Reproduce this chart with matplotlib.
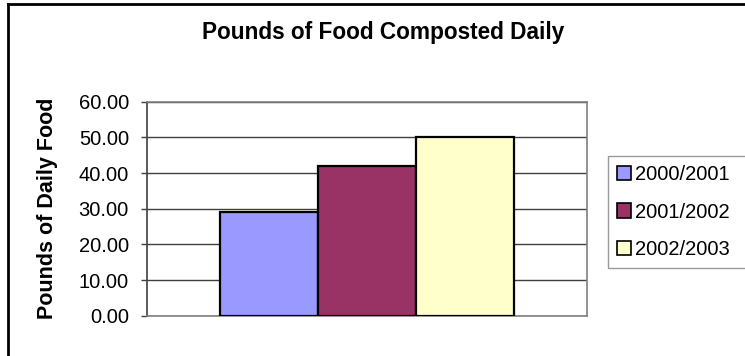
import matplotlib.pyplot as plt
from matplotlib.patches import Patch
from matplotlib.lines import Line2D

plt.rcParams['font.family'] = ['Liberation Sans', 'DejaVu Sans']

seasons = ['2000/2001', '2001/2002', '2002/2003']
pounds = [29.1, 42.0, 50.0]
colors = ['#9999FF', '#993366', '#FFFFCC']
yticks = [0, 10, 20, 30, 40, 50, 60]

W, H = 745, 356
fig = plt.figure(figsize=(W / 100, H / 100), dpi=100)
ax = fig.add_axes([147 / W, 1 - 315.7 / H, 440 / W, 214 / H])

# one category, three series side by side
w = 98 / 440
for i, (s, v, c) in enumerate(zip(seasons, pounds, colors)):
    ax.bar((i - 1) * w, v, width=w, color=c, edgecolor='black', linewidth=1.6, zorder=3)

ax.set_xlim(-0.5, 0.5)
ax.set_ylim(0, 60)
ax.set_yticks(yticks)
ax.set_yticklabels(['%.2f' % t for t in yticks], fontsize=14.5)
ax.set_xticks([])
ax.tick_params(axis='y', direction='out', length=4, width=1, color='#404040', pad=9)
ax.yaxis.grid(True, color='#404040', linewidth=1, zorder=0)
for side in ['top', 'right', 'bottom']:
    ax.spines[side].set_color('#808080')
    ax.spines[side].set_linewidth(1.2)
ax.spines['left'].set_color('#404040')
ax.spines['left'].set_linewidth(1.2)

fig.text(383 / W, 1 - 33 / H, 'Pounds of Food Composted Daily', fontsize=16.3,
         fontweight='bold', ha='center', va='center')
fig.text(48 / W, 1 - 208.5 / H, 'Pounds of Daily Food', fontsize=15.5,
         fontweight='bold', rotation=90, ha='center', va='center')

handles = [Patch(facecolor=c, edgecolor='black', linewidth=1.2) for c in colors]
fig.legend(handles, seasons, loc='lower left', mode='expand',
           bbox_to_anchor=(608 / W, 1 - 267.7 / H, 0.3, 116 / H),
           fontsize=14.5, frameon=True, fancybox=False, edgecolor='#808080',
           handlelength=0.7, handleheight=0.7, handletextpad=0.2,
           labelspacing=0.9, borderpad=0.45, borderaxespad=0)

# chart area border (only top and left are visible in the crop)
fig.add_artist(Line2D([8 / W, 1], [1 - 3.5 / H, 1 - 3.5 / H], color='black', linewidth=2))
fig.add_artist(Line2D([8 / W, 8 / W], [0, 1 - 3.5 / H], color='black', linewidth=2))

fig.savefig('out.png', dpi=100)
